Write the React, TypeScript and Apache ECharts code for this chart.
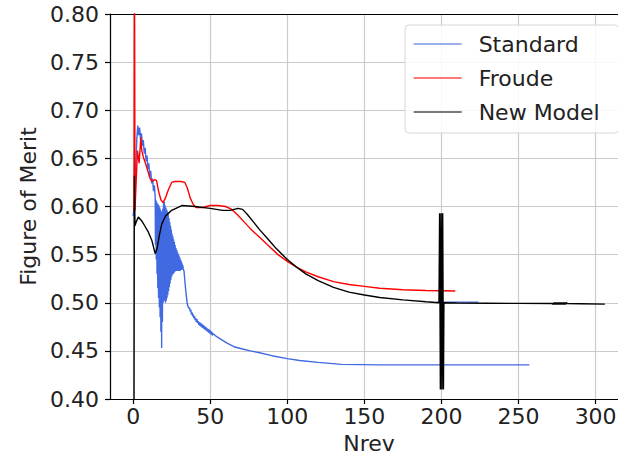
import React, { useEffect, useRef } from "react";
import * as echarts from "echarts";

// ---- data ----
const seriesNames = ["Standard", "Froude", "New Model"];
const seriesColors = ["#4169E1", "#FF0000", "#000000"];

const xTickInterval = 50;
const xMin = -15;
const xMax = 321;
const yMin = 0.4;
const yMax = 0.8;
const yTickInterval = 0.05;

// Standard (blue): rise, dense oscillation, slow decay to a plateau
const standardX = [
  0, 0.8, 1.6, 2.4, 3.0, 3.6, 4.2, 4.8, 5.4, 6.0, 6.6, 7.2, 7.8, 8.4, 9.0, 9.6, 10.2, 10.8, 11.4, 12.0, 12.6, 13.2, 13.8,
  14.3, 14.5, 14.75, 15.0, 15.25, 15.5, 15.75, 16.0, 16.25, 16.5, 16.75, 17.0, 17.25, 17.5, 17.75, 18.0, 18.25, 18.5, 18.75, 19.0, 19.25, 19.5, 19.75,
  20.0, 20.25, 20.5, 20.75, 21.0, 21.25, 21.5, 21.75, 22.0, 22.25, 22.5, 22.75, 23.0, 23.25, 23.5, 23.75, 24.0, 24.25, 24.5, 24.75,
  25.0, 25.25, 25.5, 25.75, 26.0, 26.25, 26.5, 26.75, 27.0, 27.25, 27.5, 27.75, 28.0, 28.25, 28.5, 28.75, 29.0, 29.25, 29.5, 29.75,
  30.0, 30.25, 30.5, 30.75, 31.0, 31.25, 31.5, 31.75, 32.0, 32.25, 32.5, 33.0, 34.0,
  35.0, 35.4, 35.8, 36.2, 36.6, 37.0, 37.4, 37.8, 38.2, 38.6, 39.0, 39.4, 39.8, 40.2, 40.6, 41.0, 41.4, 41.8, 42.2, 42.6,
  43.0, 43.4, 43.8, 44.2, 44.6, 45.0, 45.4, 45.8, 46.2, 46.6, 47.0, 47.4, 47.8, 48.2, 48.6, 49.0, 49.4, 49.8, 50.2, 50.6, 51.0, 51.4, 51.8,
  54, 57, 61, 66, 71, 76, 82, 90, 100, 108, 120, 135, 160, 200, 257,
  257.5, 197, 224,
];
const standardY = [
  0.59, 0.6, 0.64, 0.67, 0.684, 0.674, 0.682, 0.67, 0.676, 0.663, 0.669, 0.655, 0.661, 0.647, 0.653, 0.639, 0.645, 0.631, 0.637, 0.624, 0.629, 0.616, 0.622,
  0.61, 0.56, 0.607, 0.545, 0.605, 0.53, 0.603, 0.515, 0.602, 0.505, 0.601, 0.495, 0.599, 0.485, 0.597, 0.47, 0.595, 0.453, 0.593, 0.48, 0.598, 0.5, 0.604,
  0.502, 0.605, 0.502, 0.601, 0.5, 0.599, 0.502, 0.597, 0.505, 0.595, 0.508, 0.592, 0.512, 0.588, 0.516, 0.584, 0.52, 0.58, 0.524, 0.576,
  0.527, 0.572, 0.529, 0.569, 0.53, 0.566, 0.531, 0.563, 0.532, 0.56, 0.533, 0.557, 0.533, 0.555, 0.533, 0.553, 0.533, 0.551, 0.533, 0.549,
  0.533, 0.547, 0.533, 0.545, 0.534, 0.543, 0.534, 0.541, 0.535, 0.539, 0.535, 0.533, 0.515,
  0.5, 0.497, 0.497, 0.494, 0.495, 0.491, 0.493, 0.488, 0.49, 0.486, 0.488, 0.484, 0.486, 0.482, 0.484, 0.48, 0.483, 0.479, 0.481, 0.477,
  0.48, 0.476, 0.479, 0.475, 0.478, 0.474, 0.477, 0.473, 0.476, 0.472, 0.475, 0.471, 0.474, 0.47, 0.473, 0.469, 0.472, 0.468, 0.471, 0.467, 0.47, 0.466, 0.468,
  0.465, 0.462, 0.458, 0.454, 0.452, 0.45, 0.448, 0.445, 0.442, 0.44, 0.438, 0.436, 0.4355, 0.4355, 0.4355,
  NaN, 0.5007, 0.5007,
];

// Froude (red)
const froudeX = [
  0.6, 0.9, 1.2, 2.8, 3.9, 5.0, 5.6, 6.7, 8, 9.5, 11, 12.5, 14, 15.2, 16.5, 18, 19.4, 21, 23, 25, 27, 31, 33.5, 35, 37, 39, 41,
  45, 50, 55, 60, 64, 68, 72, 76, 82, 88, 94, 100, 106, 112, 120, 130, 140, 150, 160, 175, 190, 200, 209,
];
const froudeY = [
  0.594, 0.86, 0.596, 0.658, 0.645, 0.672, 0.658, 0.651, 0.645, 0.637, 0.629, 0.626, 0.628, 0.627, 0.616, 0.607, 0.604, 0.609, 0.618, 0.625, 0.626, 0.626, 0.625, 0.62, 0.609, 0.602, 0.599,
  0.599, 0.601, 0.601, 0.6, 0.597, 0.591, 0.584, 0.577, 0.568, 0.559, 0.55, 0.543, 0.537, 0.532, 0.527, 0.522, 0.519, 0.517, 0.515, 0.5135, 0.5127, 0.5125, 0.5122,
];

// New Model (black)
const newModelX = [
  0.5, 0.8, 1.2, 2, 3.4, 5.6, 7.5, 9.7, 12.1, 14.3, 15.5, 17, 18.6, 21, 25, 31.6, 40, 50, 58, 63, 68, 71, 74, 78, 82, 87, 93,
  100, 106, 112, 120, 130, 140, 150, 160, 175, 190, 198.4,
  198.8, 199.3, 199.8, 200.3, 200.8, 201.3, 201.6,
  210, 230, 250, 272,
  272.5, 273, 273.5, 274, 274.5, 275, 275.5, 276, 276.5, 277, 277.5, 278, 278.5, 279, 279.5, 280, 280.5, 281, 281.5,
  290, 306,
];
const newModelY = [
  0.3, 0.632, 0.58, 0.584, 0.589, 0.585, 0.58, 0.574, 0.565, 0.551, 0.556, 0.57, 0.582, 0.59, 0.596, 0.601, 0.6, 0.598, 0.596, 0.596, 0.598, 0.597, 0.592, 0.584, 0.576, 0.567, 0.556,
  0.545, 0.537, 0.53, 0.523, 0.516, 0.511, 0.508, 0.5055, 0.503, 0.501, 0.5,
  0.593, 0.41, 0.593, 0.41, 0.593, 0.41, 0.5,
  0.4997, 0.4995, 0.4993, 0.4992,
  0.4982, 0.5002, 0.4982, 0.5002, 0.4982, 0.5002, 0.4982, 0.5002, 0.4982, 0.5002, 0.4982, 0.5002, 0.4982, 0.5002, 0.4982, 0.5002, 0.4982, 0.5002, 0.4992,
  0.499, 0.4986,
];

const xAxisTitle = "Nrev";
const yAxisTitle = "Figure of Merit";

const FONT = "DejaVu Sans";

function pairs(xs: number[], ys: number[]) {
  return xs.map((x, i) => (Number.isNaN(ys[i]) ? [x, "-"] : [x, ys[i]]));
}

export default function App() {
  const ref = useRef<HTMLDivElement>(null);

  useEffect(() => {
    if (!ref.current) return;
    const chart = echarts.init(ref.current, null, { renderer: "svg" });
    const allX = [standardX, froudeX, newModelX];
    const allY = [standardY, froudeY, newModelY];

    chart.setOption({
      animation: false,
      backgroundColor: "#ffffff",
      textStyle: { fontFamily: FONT },
      grid: { left: 110, top: 14, width: 518, height: 385, containLabel: false },
      legend: {
        orient: "vertical",
        left: 405,
        top: 25,
        padding: [8, 19, 10, 8],
        itemWidth: 48,
        itemHeight: 14,
        itemGap: 12,
        backgroundColor: "rgba(255,255,255,0.85)",
        borderColor: "#d6d6d6",
        borderWidth: 1,
        borderRadius: 4,
        itemStyle: { opacity: 0 },
        lineStyle: { width: 1.3, opacity: 0.7 },
        textStyle: { fontSize: 22, color: "#222", fontFamily: FONT, padding: [0, 0, 0, 12] },
        data: seriesNames,
      },
      xAxis: [
        {
          type: "value",
          min: xMin,
          max: xMax,
          minInterval: xTickInterval,
          maxInterval: xTickInterval,
          splitNumber: 6,
          name: xAxisTitle,
          nameLocation: "middle",
          nameGap: 33,
          nameTextStyle: { fontSize: 22, color: "#222", fontFamily: FONT },
          axisLine: { show: true, onZero: false, lineStyle: { color: "#000", width: 1.2 } },
          axisTick: { show: true, length: 5, lineStyle: { color: "#000", width: 1.2 } },
          axisLabel: {
            fontSize: 22,
            color: "#222",
            margin: 6,
            fontFamily: FONT,
            showMinLabel: false,
            showMaxLabel: false,
          },
          splitLine: { show: true, lineStyle: { color: "#cbcbcb", width: 1.2 } },
        },
        {
          type: "value",
          position: "top",
          min: xMin,
          max: xMax,
          axisLine: { show: true, onZero: false, lineStyle: { color: "#000", width: 1.2 } },
          axisTick: { show: false },
          axisLabel: { show: false },
          splitLine: { show: false },
        },
      ],
      yAxis: {
        type: "value",
        min: yMin,
        max: yMax,
        interval: yTickInterval,
        name: yAxisTitle,
        nameLocation: "middle",
        nameGap: 70,
        nameTextStyle: { fontSize: 22, color: "#222", fontFamily: FONT },
        axisLine: { show: true, onZero: false, lineStyle: { color: "#000", width: 1.2 } },
        axisTick: { show: true, length: 5, lineStyle: { color: "#000", width: 1.2 } },
        axisLabel: {
          fontSize: 22,
          color: "#222",
          margin: 11,
          fontFamily: FONT,
          formatter: (v: number) => v.toFixed(2),
        },
        splitLine: { show: true, lineStyle: { color: "#cbcbcb", width: 1.2 } },
      },
      series: seriesNames.map((name, i) => ({
        name,
        type: "line",
        xAxisIndex: 0,
        data: pairs(allX[i], allY[i]),
        symbol: "none",
        showSymbol: false,
        clip: true,
        connectNulls: false,
        color: seriesColors[i],
        lineStyle: { color: seriesColors[i], width: 1.4 },
      })),
    });

    return () => chart.dispose();
  }, []);

  return (
    <div
      ref={ref}
      style={{ position: "fixed", left: 0, top: 0, width: 640, height: 459, background: "#fff" }}
    />
  );
}
